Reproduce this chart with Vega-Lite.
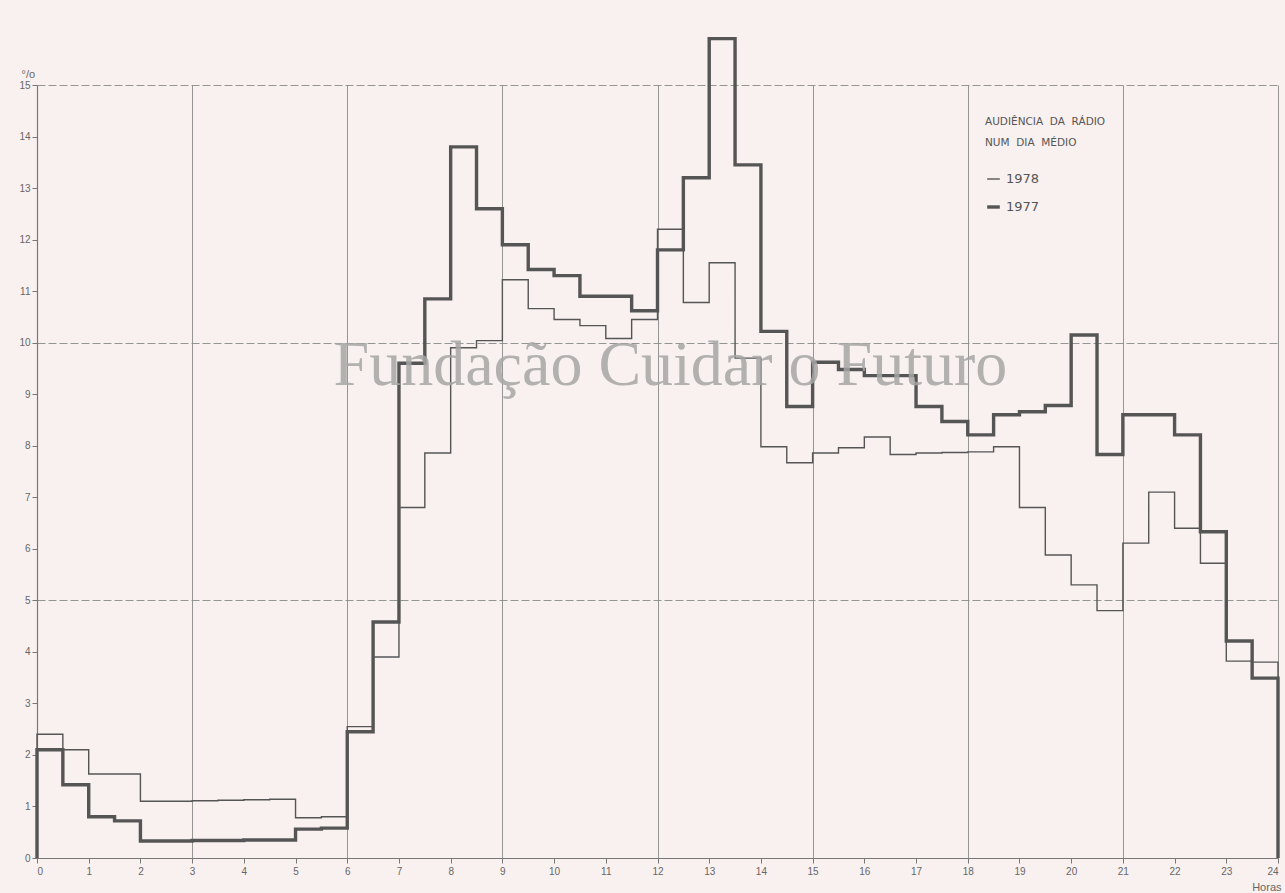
{
  "$schema": "https://vega.github.io/schema/vega-lite/v6.json",
  "width": 1241,
  "height": 773,
  "autosize": {"type": "none"},
  "padding": {"left": 37, "top": 85, "right": 7, "bottom": 35},
  "background": "#f9f1f0",
  "config": {
    "view": {"stroke": null},
    "font": "Liberation Sans",
    "axis": {
      "domainColor": "#777",
      "domainWidth": 1.2,
      "tickColor": "#777",
      "labelColor": "#666",
      "labelFontSize": 10,
      "titleColor": "#666",
      "titleFontWeight": "normal",
      "gridColor": "#8a8a8a",
      "gridWidth": 0.9
    },
    "legend": {
      "symbolType": "stroke",
      "symbolStrokeColor": "#555",
      "symbolSize": 160,
      "labelFontSize": 13,
      "labelColor": "#555",
      "labelFont": "DejaVu Sans",
      "titleFont": "DejaVu Sans",
      "titleFontSize": 10.5,
      "titleFontWeight": "normal",
      "titleColor": "#555",
      "titleLineHeight": 21,
      "titlePadding": 23,
      "rowPadding": 12
    }
  },
  "datasets": {
    "audience": [
      {"year": "1977", "i": 0, "h": 0, "v": 0},
      {"year": "1977", "i": 1, "h": 0, "v": 2.1},
      {"year": "1977", "i": 2, "h": 0.5, "v": 1.42},
      {"year": "1977", "i": 3, "h": 1, "v": 0.8},
      {"year": "1977", "i": 4, "h": 1.5, "v": 0.72},
      {"year": "1977", "i": 5, "h": 2, "v": 0.33},
      {"year": "1977", "i": 6, "h": 2.5, "v": 0.33},
      {"year": "1977", "i": 7, "h": 3, "v": 0.34},
      {"year": "1977", "i": 8, "h": 3.5, "v": 0.34},
      {"year": "1977", "i": 9, "h": 4, "v": 0.35},
      {"year": "1977", "i": 10, "h": 4.5, "v": 0.35},
      {"year": "1977", "i": 11, "h": 5, "v": 0.56},
      {"year": "1977", "i": 12, "h": 5.5, "v": 0.58},
      {"year": "1977", "i": 13, "h": 6, "v": 2.45},
      {"year": "1977", "i": 14, "h": 6.5, "v": 4.58},
      {"year": "1977", "i": 15, "h": 7, "v": 9.6},
      {"year": "1977", "i": 16, "h": 7.5, "v": 10.85},
      {"year": "1977", "i": 17, "h": 8, "v": 13.8},
      {"year": "1977", "i": 18, "h": 8.5, "v": 12.6},
      {"year": "1977", "i": 19, "h": 9, "v": 11.9},
      {"year": "1977", "i": 20, "h": 9.5, "v": 11.42},
      {"year": "1977", "i": 21, "h": 10, "v": 11.3},
      {"year": "1977", "i": 22, "h": 10.5, "v": 10.9},
      {"year": "1977", "i": 23, "h": 11, "v": 10.9},
      {"year": "1977", "i": 24, "h": 11.5, "v": 10.62},
      {"year": "1977", "i": 25, "h": 12, "v": 11.8},
      {"year": "1977", "i": 26, "h": 12.5, "v": 13.2},
      {"year": "1977", "i": 27, "h": 13, "v": 15.9},
      {"year": "1977", "i": 28, "h": 13.5, "v": 13.45},
      {"year": "1977", "i": 29, "h": 14, "v": 10.22},
      {"year": "1977", "i": 30, "h": 14.5, "v": 8.76},
      {"year": "1977", "i": 31, "h": 15, "v": 9.62},
      {"year": "1977", "i": 32, "h": 15.5, "v": 9.48},
      {"year": "1977", "i": 33, "h": 16, "v": 9.36},
      {"year": "1977", "i": 34, "h": 16.5, "v": 9.36},
      {"year": "1977", "i": 35, "h": 17, "v": 8.76},
      {"year": "1977", "i": 36, "h": 17.5, "v": 8.47},
      {"year": "1977", "i": 37, "h": 18, "v": 8.21},
      {"year": "1977", "i": 38, "h": 18.5, "v": 8.6},
      {"year": "1977", "i": 39, "h": 19, "v": 8.66},
      {"year": "1977", "i": 40, "h": 19.5, "v": 8.78},
      {"year": "1977", "i": 41, "h": 20, "v": 10.15},
      {"year": "1977", "i": 42, "h": 20.5, "v": 7.83},
      {"year": "1977", "i": 43, "h": 21, "v": 8.6},
      {"year": "1977", "i": 44, "h": 21.5, "v": 8.6},
      {"year": "1977", "i": 45, "h": 22, "v": 8.21},
      {"year": "1977", "i": 46, "h": 22.5, "v": 6.33},
      {"year": "1977", "i": 47, "h": 23, "v": 4.21},
      {"year": "1977", "i": 48, "h": 23.5, "v": 3.49},
      {"year": "1977", "i": 49, "h": 24, "v": 0},
      {"year": "1978", "i": 0, "h": 0, "v": 0},
      {"year": "1978", "i": 1, "h": 0, "v": 2.4},
      {"year": "1978", "i": 2, "h": 0.5, "v": 2.1},
      {"year": "1978", "i": 3, "h": 1, "v": 1.63},
      {"year": "1978", "i": 4, "h": 1.5, "v": 1.63},
      {"year": "1978", "i": 5, "h": 2, "v": 1.1},
      {"year": "1978", "i": 6, "h": 2.5, "v": 1.1},
      {"year": "1978", "i": 7, "h": 3, "v": 1.11},
      {"year": "1978", "i": 8, "h": 3.5, "v": 1.12},
      {"year": "1978", "i": 9, "h": 4, "v": 1.13},
      {"year": "1978", "i": 10, "h": 4.5, "v": 1.14},
      {"year": "1978", "i": 11, "h": 5, "v": 0.78},
      {"year": "1978", "i": 12, "h": 5.5, "v": 0.8},
      {"year": "1978", "i": 13, "h": 6, "v": 2.55},
      {"year": "1978", "i": 14, "h": 6.5, "v": 3.9},
      {"year": "1978", "i": 15, "h": 7, "v": 6.8},
      {"year": "1978", "i": 16, "h": 7.5, "v": 7.86},
      {"year": "1978", "i": 17, "h": 8, "v": 9.9},
      {"year": "1978", "i": 18, "h": 8.5, "v": 10.04},
      {"year": "1978", "i": 19, "h": 9, "v": 11.22},
      {"year": "1978", "i": 20, "h": 9.5, "v": 10.66},
      {"year": "1978", "i": 21, "h": 10, "v": 10.45},
      {"year": "1978", "i": 22, "h": 10.5, "v": 10.33},
      {"year": "1978", "i": 23, "h": 11, "v": 10.08},
      {"year": "1978", "i": 24, "h": 11.5, "v": 10.45},
      {"year": "1978", "i": 25, "h": 12, "v": 12.2},
      {"year": "1978", "i": 26, "h": 12.5, "v": 10.78},
      {"year": "1978", "i": 27, "h": 13, "v": 11.55},
      {"year": "1978", "i": 28, "h": 13.5, "v": 9.7},
      {"year": "1978", "i": 29, "h": 14, "v": 7.98},
      {"year": "1978", "i": 30, "h": 14.5, "v": 7.67},
      {"year": "1978", "i": 31, "h": 15, "v": 7.86},
      {"year": "1978", "i": 32, "h": 15.5, "v": 7.96},
      {"year": "1978", "i": 33, "h": 16, "v": 8.17},
      {"year": "1978", "i": 34, "h": 16.5, "v": 7.83},
      {"year": "1978", "i": 35, "h": 17, "v": 7.86},
      {"year": "1978", "i": 36, "h": 17.5, "v": 7.87},
      {"year": "1978", "i": 37, "h": 18, "v": 7.88},
      {"year": "1978", "i": 38, "h": 18.5, "v": 7.98},
      {"year": "1978", "i": 39, "h": 19, "v": 6.8},
      {"year": "1978", "i": 40, "h": 19.5, "v": 5.88},
      {"year": "1978", "i": 41, "h": 20, "v": 5.3},
      {"year": "1978", "i": 42, "h": 20.5, "v": 4.8},
      {"year": "1978", "i": 43, "h": 21, "v": 6.11},
      {"year": "1978", "i": 44, "h": 21.5, "v": 7.1},
      {"year": "1978", "i": 45, "h": 22, "v": 6.4},
      {"year": "1978", "i": 46, "h": 22.5, "v": 5.72},
      {"year": "1978", "i": 47, "h": 23, "v": 3.82},
      {"year": "1978", "i": 48, "h": 23.5, "v": 3.8},
      {"year": "1978", "i": 49, "h": 24, "v": 0}
    ]
  },
  "layer": [
    {
      "data": {"name": "audience"},
      "mark": {"type": "line", "interpolate": "step-after", "stroke": "#555", "clip": false},
      "encoding": {
        "x": {
          "field": "h",
          "type": "quantitative",
          "scale": {"domain": [0, 24], "nice": false, "zero": false},
          "axis": {
            "values": [0,1,2,3,4,5,6,7,8,9,10,11,12,13,14,15,16,17,18,19,20,21,22,23,24],
            "title": "Horas",
            "titleFontSize": 11,
            "titleAnchor": "end",
            "titleAlign": "right",
            "titleX": 1244,
            "titleY": 34,
            "titleBaseline": "bottom",
            "tickSize": 5,
            "labelPadding": 3,
            "grid": true,
            "gridOpacity": {"condition": {"test": "datum.value % 3 === 0 && datum.value > 0", "value": 1}, "value": 0}
          }
        },
        "y": {
          "field": "v",
          "type": "quantitative",
          "scale": {"domain": [0, 15], "nice": false},
          "axis": {
            "values": [0,1,2,3,4,5,6,7,8,9,10,11,12,13,14,15],
            "title": "°/o",
            "titleAngle": 0,
            "titleFontSize": 11,
            "titleAlign": "left",
            "titleBaseline": "bottom",
            "titleX": -16,
            "titleY": -6,
            "tickSize": 5,
            "labelPadding": 2,
            "grid": true,
            "gridDash": [8, 3],
            "gridOpacity": {"condition": {"test": "datum.value % 5 === 0 && datum.value > 0", "value": 1}, "value": 0}
          }
        },
        "order": {"field": "i", "type": "quantitative"},
        "detail": {"field": "year", "type": "nominal"},
        "strokeWidth": {
          "field": "year",
          "type": "nominal",
          "scale": {"domain": ["1978", "1977"], "range": [1.4, 3.4]},
          "legend": {
            "title": ["AUDIÊNCIA\u00a0\u00a0DA\u00a0\u00a0RÁDIO", "NUM\u00a0\u00a0DIA\u00a0\u00a0MÉDIO"],
            "orient": "none",
            "legendX": 948,
            "legendY": 32
          }
        }
      }
    },
    {
      "data": {"values": [{"label": "Fundação Cuidar o Futuro"}]},
      "mark": {
        "type": "text",
        "font": "Liberation Serif",
        "fontSize": 64,
        "color": "#a6a6a6",
        "opacity": 0.85,
        "align": "center",
        "baseline": "middle"
      },
      "encoding": {
        "text": {"field": "label", "type": "nominal"},
        "x": {"datum": 12.25, "type": "quantitative"},
        "y": {"datum": 9.55, "type": "quantitative"}
      }
    }
  ]
}
